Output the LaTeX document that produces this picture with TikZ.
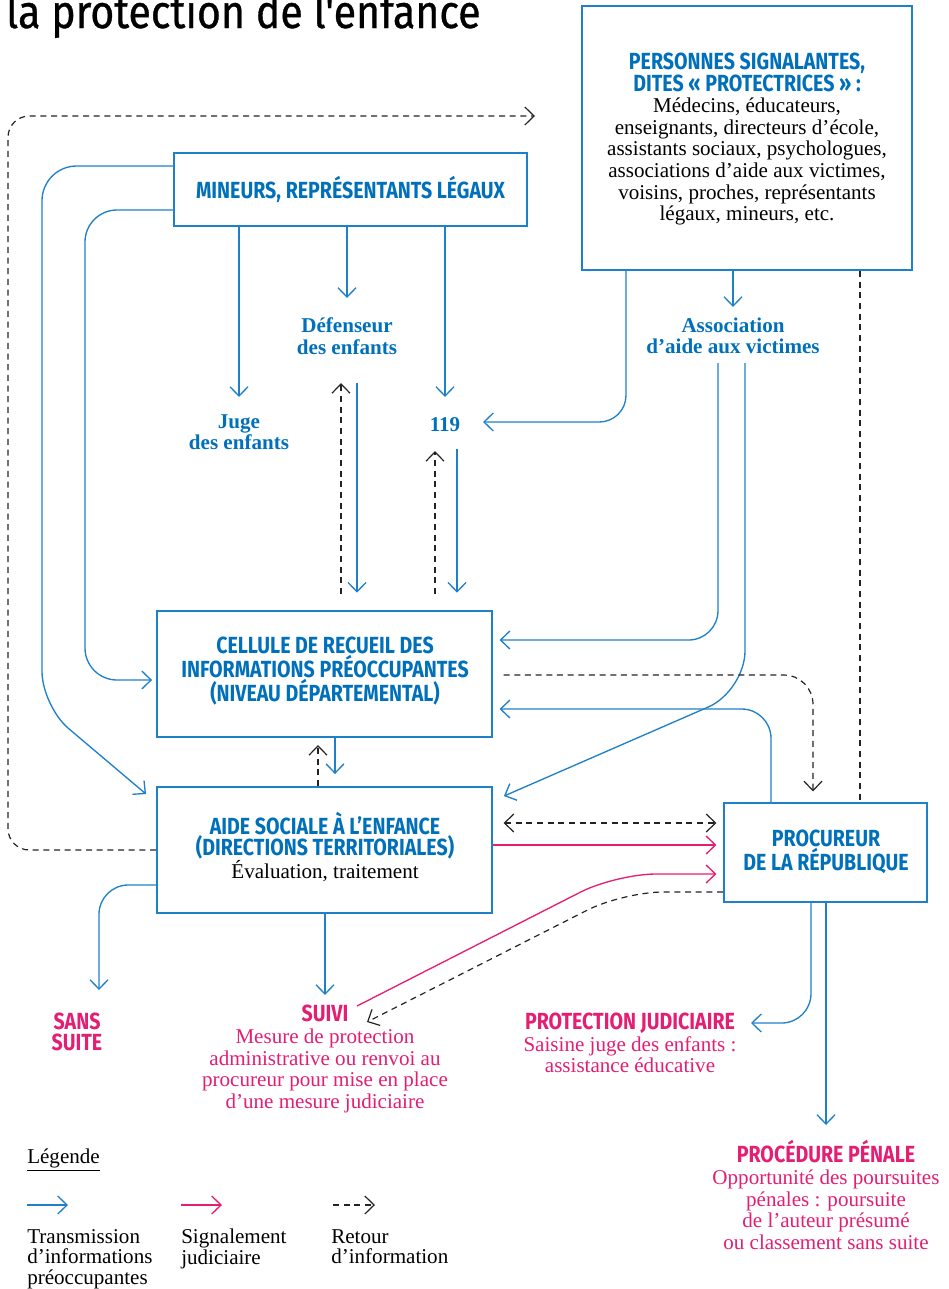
\documentclass[tikz,border=0pt]{standalone}
\usepackage{fontspec}
\setmainfont{Liberation Serif}
\newfontfamily\condsans[FakeStretch=0.84]{Fira Sans}
\newfontfamily\titlesans[FakeStretch=0.88,FakeBold=0.7]{Fira Sans}
\usetikzlibrary{arrows.meta,calc}
\definecolor{bl}{RGB}{0,112,186}
\definecolor{bline}{RGB}{30,128,200}
\definecolor{pk}{RGB}{228,30,115}
\definecolor{dk}{RGB}{35,35,35}
\newcommand\myhsf{\condsans\bfseries\fontsize{17.5}{16.2}\selectfont}
\newcommand\mysr{\rmfamily\mdseries\fontsize{15.8}{16.2}\selectfont}
\newcommand\mysb{\rmfamily\bfseries\fontsize{15.8}{16.2}\selectfont}
\begin{document}
\begin{tikzpicture}[x=0.75pt,y=-0.75pt,
  box/.style={draw=bline,line width=1.4pt,align=center,inner sep=0pt},
  lbl/.style={align=center,inner sep=0pt,font=\fontsize{15.8}{16.2}\selectfont},
  tipA/.style={-{Straight Barb[length=7pt,width=13.5pt]}},
  tr/.style={draw=bline,line width=1pt,tipA},
  sg/.style={draw=pk,line width=1pt,tipA},
  ret/.style={draw=dk,line width=0.9pt,dash pattern=on 4.5pt off 3.5pt,tipA},
  retnoarr/.style={draw=dk,line width=0.9pt,dash pattern=on 4.5pt off 3.5pt}]
\useasboundingbox (0,0) rectangle (949,1289);

% title
\node[anchor=base west,inner sep=0pt,font=\titlesans\fontsize{35}{35}\selectfont] (title) at (6,28) {la protection de l'enfance};

% boxes
\node[box,minimum width=353*0.75pt,minimum height=73*0.75pt] (mineurs) at (350.5,189.5)
  {\myhsf\color{bl}MINEURS, REPRÉSENTANTS LÉGAUX};
\node[box,minimum width=330*0.75pt,minimum height=264*0.75pt] (pers) at (747,138) {};
\node[lbl] (perstext) at (747,139)
  {\myhsf\color{bl}PERSONNES SIGNALANTES,\\
   \myhsf\color{bl}DITES « PROTECTRICES » :\\
   \mysr\color{black}Médecins, éducateurs,\\
   \mysr enseignants, directeurs d’école,\\
   \mysr assistants sociaux, psychologues,\\
   \mysr associations d’aide aux victimes,\\
   \mysr voisins, proches, représentants\\
   \mysr légaux, mineurs, etc.};
\node[box,minimum width=335*0.75pt,minimum height=126*0.75pt] (cellule) at (324.5,674) {};
\node[lbl] (celltext) at (325,671)
  {\myhsf\color{bl}CELLULE DE RECUEIL DES\\
   \myhsf\color{bl}INFORMATIONS PRÉOCCUPANTES\\
   \myhsf\color{bl}(NIVEAU DÉPARTEMENTAL)};
\node[box,minimum width=335*0.75pt,minimum height=126*0.75pt] (ase) at (324.5,850) {};
\node[lbl] (asetext) at (325,847)
  {\myhsf\color{bl}AIDE SOCIALE À L’ENFANCE\\
   \myhsf\color{bl}(DIRECTIONS TERRITORIALES)\\
   \mysr\color{black}Évaluation, traitement};
\node[box,minimum width=203*0.75pt,minimum height=99*0.75pt] (proc) at (825.5,852.5) {};
\node[lbl] (proctext) at (826,852)
  {\myhsf\color{bl}PROCUREUR\\ \myhsf\color{bl}DE LA RÉPUBLIQUE};

% labels
\node[lbl,text=bl] (juge) at (239,432) {\mysb Juge\\ \mysb des enfants};
\node[lbl,text=bl] (def) at (347,336) {\mysb Défenseur\\ \mysb des enfants};
\node[lbl,text=bl] (n119) at (445,425) {\mysb 119};
\node[lbl,text=bl] (asso) at (733,336) {\mysb Association\\ \mysb d’aide aux victimes};
\node[lbl,text=pk] (sans) at (77,1032) {\myhsf SANS\\ \myhsf SUITE};
\node[lbl,text=pk] (suivi) at (325,1059)
  {\myhsf SUIVI\\ \mysr Mesure de protection\\ \mysr administrative ou renvoi au\\
   \mysr procureur pour mise en place\\ \mysr d’une mesure judiciaire};
\node[lbl,text=pk] (protj) at (630,1043)
  {\myhsf PROTECTION JUDICIAIRE\\ \mysr Saisine juge des enfants :\\ \mysr assistance éducative};
\node[lbl,text=pk] (penale) at (826,1195)
  {\myhsf PROCÉDURE PÉNALE\\ \mysr Opportunité des poursuites\\ \mysr pénales : poursuite\\
   \mysr de l’auteur présumé\\ \mysr ou classement sans suite};

% free ends
\coordinate (topend) at (535,116);
\coordinate (a119) at (483,422);
\coordinate (apj) at (751,1023);
\coordinate (dtop) at (341,383);
\coordinate (stop) at (357,383);
\coordinate (dtop2) at (435,451);
\coordinate (stop2) at (457,449);

% connectors
\draw[ret,rounded corners=16pt] (ase.west) -- (8,850) -- (8,116) -- (topend);
\draw[tr,rounded corners=26pt] (mineurs.west |- 0,166) -- (42,166) -- (42,706) -- ($(ase.north west)+(-10,8)$);
\draw[tr,rounded corners=24pt,shorten >=3pt] (mineurs.west |- 0,210) -- (85,210) -- (85,680) -- (cellule.west |- 0,680);
\draw[tr] (mineurs.south -| juge.north) -- (juge.north |- 0,397);
\draw[tr] (mineurs.south -| def.north) -- (def.north |- 0,298);
\draw[tr] (mineurs.south -| n119.north) -- (n119.north |- 0,397);
\draw[tr,rounded corners=20pt] (pers.south -| 626,0) -- (626,422) -- (a119);
\draw[tr] (pers.south -| asso.north) -- (asso.north |- 0,307);
\draw[retnoarr] (pers.south -| 860,0) -- (proc.north -| 860,0);
\draw[ret,shorten <=12pt] (cellule.north -| dtop) -- (dtop);
\draw[tr,shorten >=13pt] (stop) -- (cellule.north -| stop);
\draw[ret,shorten <=12pt] (cellule.north -| dtop2) -- (dtop2);
\draw[tr,shorten >=13pt] (stop2) -- (cellule.north -| stop2);
\draw[tr,rounded corners=22pt,shorten >=5pt] (718,363) -- (718,640) -- (cellule.east |- 0,640);
\draw[tr,rounded corners=30pt] (745,363) -- (745,691) -- ($(ase.north east)+(11,10)$);
\draw[tr,rounded corners=22pt,shorten >=5pt] (proc.north -| 771,0) -- (771,709) -- (cellule.east |- 0,709);
\draw[ret,rounded corners=22pt,shorten <=8pt,shorten >=8pt] (cellule.east |- 0,675) -- (813,675) -- (proc.north -| 813,0);
\draw[ret,{Straight Barb[length=7pt,width=13.5pt]}-{Straight Barb[length=7pt,width=13.5pt]},shorten <=8pt,shorten >=5pt] (ase.east |- 0,823) -- (proc.west |- 0,823);
\draw[sg,shorten >=5pt] (ase.east |- 0,845) -- (proc.west |- 0,845);
\draw[sg,rounded corners=30pt,shorten >=5pt] (357,1006) -- (616,874) -- (proc.west |- 0,874);
\draw[ret,rounded corners=30pt] (proc.west |- 0,892) -- (623,892) -- (367,1022);
\draw[tr,rounded corners=22pt] (proc.south -| 811,0) -- (811,1023) -- (apj);
\draw[tr] (proc.south -| 826,0) -- (826,1125);
\draw[tr] (ase.south -| suivi.north) -- (suivi.north |- 0,995);
\draw[tr,rounded corners=22pt] (ase.west |- 0,885) -- (99,885) -- (99,990);
\draw[ret] (ase.north -| 318,0) -- (318,745);
\draw[tr,shorten >=9pt] (cellule.south -| 335,0) -- (ase.north -| 335,0);

% legend
\node[anchor=west,inner sep=0pt] (leg) at (27,1160) {\mysr\underline{Légende}};
\coordinate (l1a) at (27,1205); \coordinate (l1b) at (68,1205);
\coordinate (l2a) at (181,1205); \coordinate (l2b) at (222,1205);
\coordinate (l3a) at (333,1205); \coordinate (l3b) at (375,1205);
\draw[tr] (l1a) -- (l1b);
\draw[sg] (l2a) -- (l2b);
\draw[ret] (l3a) -- (l3b);
\node[anchor=north west,inner sep=0pt,align=left,font=\fontsize{15.8}{15.5}\selectfont] (lt1) at (27,1229)
  {\mysr Transmission\\ \mysr d’informations\\ \mysr préoccupantes};
\node[anchor=north west,inner sep=0pt,align=left,font=\fontsize{15.8}{15.5}\selectfont] (lt2) at (181,1229)
  {\mysr Signalement\\ \mysr judiciaire};
\node[anchor=north west,inner sep=0pt,align=left,font=\fontsize{15.8}{15.5}\selectfont] (lt3) at (331,1229)
  {\mysr Retour\\ \mysr d’information};
\end{tikzpicture}
\end{document}
